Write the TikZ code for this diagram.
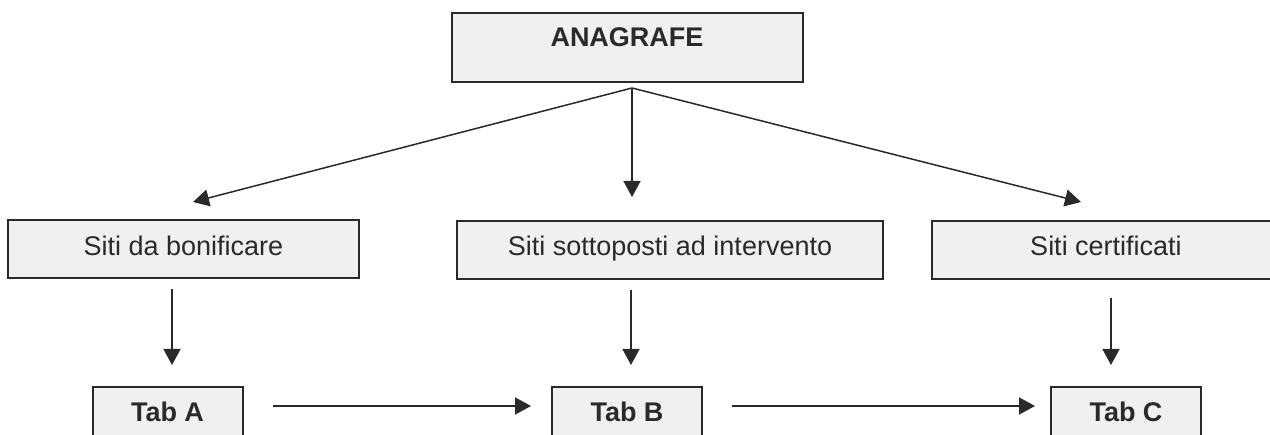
\documentclass[tikz,border=0pt]{standalone}
\usepackage{fontspec}
\setmainfont{Liberation Sans}
\usetikzlibrary{arrows.meta}
\definecolor{boxfill}{HTML}{F0F0F0}
\definecolor{ink}{HTML}{2A2A2A}
\begin{document}
\begin{tikzpicture}[x=1pt,y=-1pt,
  box/.style={draw=ink, line width=2pt, fill=boxfill, inner sep=0pt, text=ink,
    font=\fontsize{27}{32}\selectfont},
  midbox/.style={box, minimum height=58pt, text height=20pt, text depth=8pt},
  tabbox/.style={box, minimum width=150pt, minimum height=70pt, text height=20pt, text depth=20pt, font=\fontsize{27}{32}\selectfont\bfseries},
  arr/.style={draw=ink, line width=1.5pt, -{Triangle[length=16pt,width=17pt]}}]
\clip (0,0) rectangle (1270,435);
\fill[white] (0,0) rectangle (1270,435);
\node[box, minimum width=351pt, minimum height=69pt, text height=20pt, text depth=22pt,
  font=\fontsize{27}{32}\selectfont\bfseries] (ana) at (627,48) {ANAGRAFE};
\node[midbox, minimum width=351pt] (s1) at (183.5,249.5) {Siti da bonificare};
\node[midbox, minimum width=426pt] (s2) at (670,250) {Siti sottoposti ad intervento};
\node[midbox, minimum width=348pt] (s3) at (1106,250) {Siti certificati};
\node[tabbox] (ta) at (167.5,422) {Tab A};
\node[tabbox] (tb) at (627,422) {Tab B};
\node[tabbox] (tc) at (1126,422) {Tab C};
% hub and diagonal tips
\coordinate (hub) at (632,88);
\coordinate (t1) at (193,202);
\coordinate (t2) at (632,197);
\coordinate (t3) at (1081,202);
\draw[arr] (hub) -- (t1);
\draw[arr] (hub) -- (t2);
\draw[arr] (hub) -- (t3);
% vertical arrows
\coordinate (v1) at (172,0);
\coordinate (v2) at (631,0);
\coordinate (v3) at (1111,0);
\draw[arr, shorten <=10pt, shorten >=21pt] (s1.south -| v1) -- (ta.north -| v1);
\draw[arr, shorten <=10pt, shorten >=21pt] (s2.south -| v2) -- (tb.north -| v2);
\draw[arr, shorten <=18pt, shorten >=21pt] (s3.south -| v3) -- (tc.north -| v3);
% horizontal arrows
\coordinate (hy) at (0,406);
\draw[arr, shorten <=29pt, shorten >=20pt] (ta.east |- hy) -- (tb.west |- hy);
\draw[arr, shorten <=29pt, shorten >=15pt] (tb.east |- hy) -- (tc.west |- hy);
\end{tikzpicture}
\end{document}
